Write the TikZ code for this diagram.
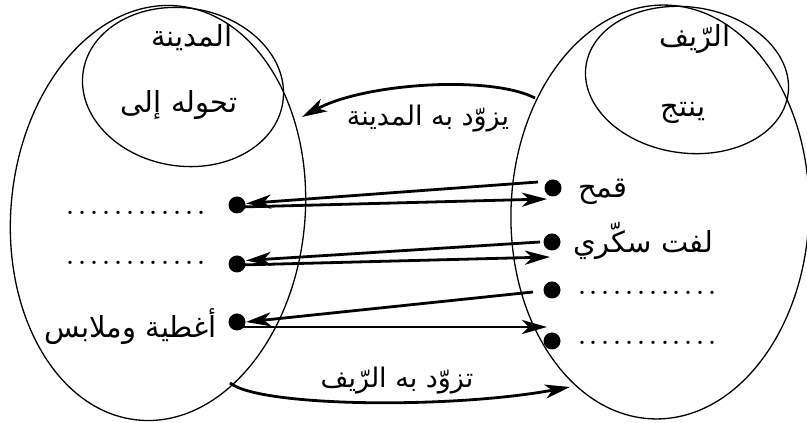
\documentclass[tikz,border=0pt]{standalone}
\usepackage{fontspec}
\TeXXeTstate=1
\newfontfamily\arabicfont[Script=Arabic]{DejaVu Sans}
\usetikzlibrary{arrows.meta,calc}
\tikzset{
  region/.style={draw, line width=1.3pt},
  dotnode/.style={circle, fill=black, minimum size=17pt, inner sep=0pt},
  arr/.style={line width=2.8pt, -{Stealth[length=25pt,width=14pt,inset=7pt]}},
  lbl/.style={inner sep=0pt, font=\fontsize{29}{34}\arabicfont},
  dots/.style={inner sep=0pt, font=\fontsize{40}{40}\selectfont}
}
\newcommand{\onedot}{\hbox to 11.85pt{\hss.\hss}}
\newcommand{\dotrow}{\onedot\onedot\onedot\onedot\onedot\onedot\onedot\onedot\onedot\onedot\onedot\onedot}
\begin{document}
\begin{tikzpicture}[x=1pt,y=1pt]
\useasboundingbox (0,0) rectangle (807,423);
% regions
\draw[region, rotate around={-5.5:(158,210)}] (158,210) ellipse [x radius=147, y radius=208];
\draw[region, rotate around={-9:(183,336)}] (183,336) ellipse [x radius=101, y radius=79];
\draw[region, rotate around={-2:(660,211)}] (660,211) ellipse [x radius=149, y radius=207];
\draw[region, rotate around={-8:(687,343)}] (687,343) ellipse [x radius=102, y radius=73];
% titles
\node[lbl] (city) at (192,385) {\beginR المدينة\endR};
\node[lbl] (conv) at (179,318) {\beginR تحوله إلى\endR};
\node[lbl] (rural) at (695,384) {\beginR الرّيف\endR};
\node[lbl] (prod) at (683,310) {\beginR ينتج\endR};
% dots
\node[dotnode] (L1) at (237,218) {};
\node[dotnode] (L2) at (237,159) {};
\node[dotnode] (L3) at (237,101) {};
\node[dotnode] (R1) at (553,235) {};
\node[dotnode] (R2) at (552,181) {};
\node[dotnode] (R3) at (552,133) {};
\node[dotnode] (R4) at (552,82) {};
% item labels
\node[lbl, anchor=west] (wheat) at (578,231) {\beginR قمح\endR};
\node[lbl, anchor=west] (beet) at (573,182) {\beginR لفت سكّري\endR};
\node[lbl, anchor=east] (cloth) at (217,96) {\beginR أغطية وملابس\endR};
\node[dots, anchor=base west] (dl1) at (64.8,208.9) {\dotrow};
\node[dots, anchor=base west] (dl2) at (64.8,158.9) {\dotrow};
\node[dots, anchor=base west] (dr1) at (576,128.9) {\dotrow};
\node[dots, anchor=base west] (dr2) at (576,78.9) {\dotrow};
% connector ends
\coordinate (a1) at (538,241);
\coordinate (b2) at (547,224);
\coordinate (c1) at (540,181);
\coordinate (d2) at (550,166);
\coordinate (e1) at (533,131);
\coordinate (f2) at (547,96);
\coordinate (la) at (246,219.5);
\coordinate (lb) at (240,216);
\coordinate (lc) at (246,162.5);
\coordinate (ld) at (240,158);
\coordinate (le) at (246,101);
\coordinate (lf) at (240,96);
\draw[arr] (a1) -- (la);
\draw[arr] (lb) -- (b2);
\draw[arr] (c1) -- (lc);
\draw[arr] (ld) -- (d2);
\draw[arr] (e1) -- (le);
\draw[arr] (lf) -- (f2);
% supply arrows
\coordinate (t1) at (535,325);
\coordinate (t2) at (302,306);
\draw[arr] (t1) .. controls (490,348) and (365,340) .. (t2);
\node[lbl, font=\fontsize{27}{32}\arabicfont] (supcity) at (428,304) {\beginR يزوّد به المدينة\endR};
\coordinate (s1) at (230,40);
\coordinate (s2) at (570,36);
\draw[arr] (s1) .. controls (260,16) and (450,14) .. (s2);
\node[lbl, font=\fontsize{27}{32}\arabicfont] (suprural) at (397,42) {\beginR تزوّد به الرّيف\endR};
\end{tikzpicture}
\end{document}
